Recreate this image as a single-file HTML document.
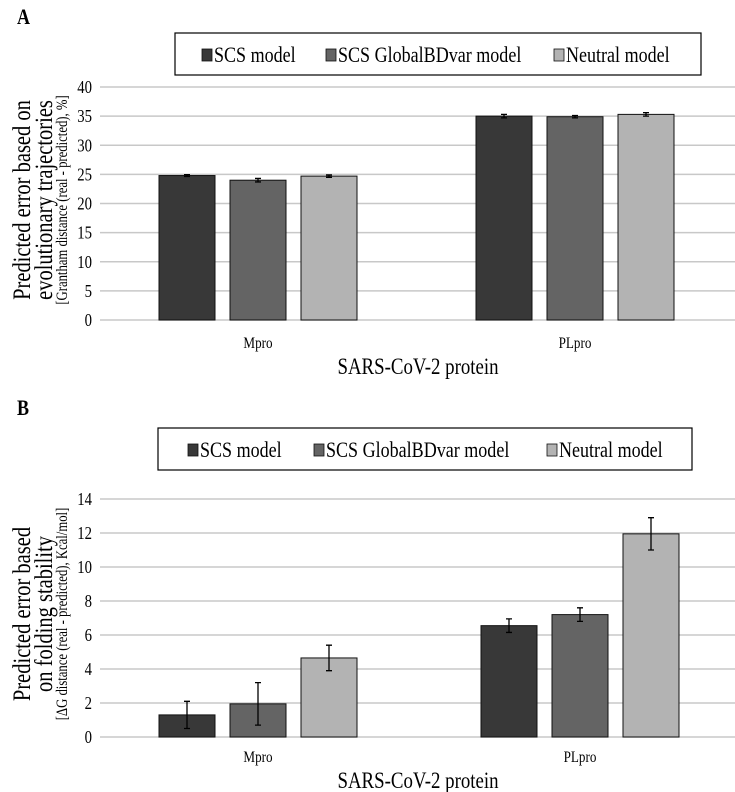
<!DOCTYPE html>
<html><head><meta charset="utf-8"><style>
html,body{margin:0;padding:0;background:#fff;}
svg{display:block;font-family:"Liberation Serif",serif;}
</style></head><body>
<svg id="chart" width="735" height="792" viewBox="0 0 735 792" xmlns="http://www.w3.org/2000/svg"></svg>
<script>
const categories = ["Mpro", "PLpro"];
const seriesNames = ["SCS model", "SCS GlobalBDvar model", "Neutral model"];
const colors = ["#383838", "#646464", "#b3b3b3"];
const aValues = [[24.8, 35.0], [24.0, 34.9], [24.7, 35.3]];
const aErrors = [[0.15, 0.3], [0.3, 0.2], [0.2, 0.3]];
const aTicks = [0, 5, 10, 15, 20, 25, 30, 35, 40];
const bValues = [[1.3, 6.55], [1.95, 7.2], [4.65, 11.95]];
const bErrors = [[0.8, 0.4], [1.25, 0.4], [0.75, 0.95]];
const bTicks = [0, 2, 4, 6, 8, 10, 12, 14];

const svg = document.getElementById('chart');
const NS = "http://www.w3.org/2000/svg";
function mk(tag, attrs, parent) {
  const e = document.createElementNS(NS, tag);
  for (const k in attrs) e.setAttribute(k, attrs[k]);
  (parent || svg).appendChild(e);
  return e;
}
function txt(s, x, y, size, anchor, parent, extra) {
  const e = mk('text', Object.assign({transform: `translate(${x},${y}) scale(0.82,1)`, 'font-size': size, 'text-anchor': anchor}, extra || {}), parent);
  e.textContent = s;
  return e;
}

function panel(cfg) {
  const g = mk('g', {});
  
  
  const ymax = cfg.ticks[cfg.ticks.length - 1];
  const y = v => cfg.y0 - (v / ymax) * (cfg.y0 - cfg.yTop);
  const xL = 100, xR = 735;
  const L = txt(cfg.letter, 17, cfg.letterY, 22, 'start', g, {'font-weight': 'bold'});
  
  
  cfg.ticks.forEach(t => {
    const ln = mk('line', {x1: xL, x2: xR, y1: y(t), y2: y(t), stroke: '#c8c8c8', 'stroke-width': 1.5}, g);
    
    
    const tl = txt(String(t), 92, y(t) + 6, 18, 'end', g);
    
    
  });
  const barW = 56, gap = 15;
  categories.forEach((c, ci) => {
    const cx = cfg.cx[ci];
    seriesNames.forEach((s, si) => {
      const bx = cx + (si - 1) * (barW + gap) - barW / 2;
      const v = cfg.values[si][ci], e = cfg.errors[si][ci];
      const r = mk('rect', {x: bx, y: y(v), width: barW, height: y(0) - y(v), fill: colors[si], stroke: '#111', 'stroke-width': 1}, g);
      
      
      const mx = bx + barW / 2;
      const eb = mk('path', {d: `M${mx},${y(v+e)}V${y(v-e)}M${mx-3},${y(v+e)}H${mx+3}M${mx-3},${y(v-e)}H${mx+3}`, stroke: '#000', 'stroke-width': 1.3, fill: 'none'}, g);
      
      
    });
    const cl = txt(c, cx, cfg.catY, 16, 'middle', g);
    
    
  });
  const xt = txt('SARS-CoV-2 protein', 418, cfg.xTitleY, 23, 'middle', g);
  
  
  const yt = mk('g', {transform: `translate(0,${cfg.yMid}) rotate(-90)`}, g);
  
  
  txt(cfg.yt1, 0, 30, 25, 'middle', yt);
  txt(cfg.yt2, 0, 52, 25, 'middle', yt);
  txt(cfg.yt3, 0, 67, 15.5, 'middle', yt);
  const lg = mk('g', {}, g);
  
  
  mk('rect', {x: cfg.leg[0], y: cfg.leg[1], width: cfg.leg[2], height: cfg.leg[3], fill: '#fff', stroke: '#000', 'stroke-width': 1.2}, lg);
  seriesNames.forEach((s, si) => {
    const ent = mk('g', {}, lg);
    
    
    const lx = cfg.legX[si], ly = cfg.leg[1] + cfg.leg[3] / 2;
    mk('rect', {x: lx, y: ly - 5, width: 10, height: 12, fill: colors[si], stroke: '#111', 'stroke-width': 0.8}, ent);
    txt(s, lx + 12, ly + 8, 22, 'start', ent);
  });
}

panel({name: 'panel-a', letter: 'A', letterY: 24, y0: 320, yTop: 87, ticks: aTicks, values: aValues, errors: aErrors,
  cx: [258, 575], catY: 348, xTitleY: 374, yMid: 200,
  yt1: 'Predicted error based on', yt2: 'evolutionary trajectories', yt3: '[Grantham distance (real - predicted), %]',
  leg: [175, 33, 526, 42], legX: [202, 326, 554]});
panel({name: 'panel-b', letter: 'B', letterY: 415, y0: 737, yTop: 499, ticks: bTicks, values: bValues, errors: bErrors,
  cx: [258, 580], catY: 762, xTitleY: 788, yMid: 614,
  yt1: 'Predicted error based', yt2: 'on folding stability', yt3: '[ΔG distance (real - predicted), Kcal/mol]',
  leg: [158, 428, 534, 42], legX: [188, 314, 547]});
</script>
</body></html>
